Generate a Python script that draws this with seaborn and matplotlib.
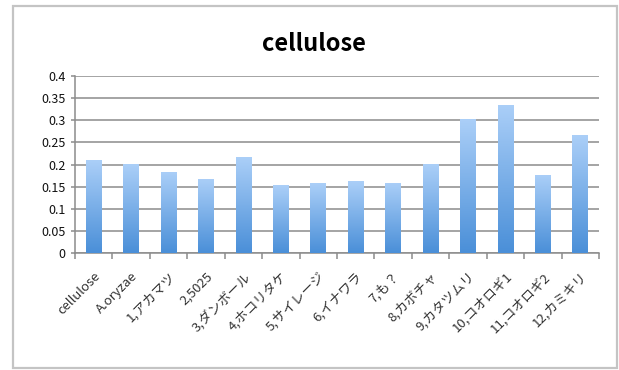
import numpy as np
import pandas as pd
import matplotlib
matplotlib.use("Agg")
import matplotlib.pyplot as plt
from matplotlib.patches import Rectangle
from matplotlib.colors import LinearSegmentedColormap
import seaborn as sns

samples = ["cellulose", "A.oryzae", "1,アカマツ", "2,5025", "3,ダンボール", "4,ホコリタケ",
           "5,サイレージ", "6,イナワラ", "7,も？", "8,カボチャ", "9,カタツムリ",
           "10,コオロギ1", "11,コオロギ2", "12,カミキリ"]
values = [0.210, 0.201, 0.184, 0.168, 0.216, 0.153, 0.158, 0.162, 0.159, 0.201,
          0.302, 0.335, 0.177, 0.266]
yticks = [0, 0.05, 0.1, 0.15, 0.2, 0.25, 0.3, 0.35, 0.4]
ytick_labels = ["0", "0.05", "0.1", "0.15", "0.2", "0.25", "0.3", "0.35", "0.4"]

sns.set_theme(style="white")
plt.rcParams["font.family"] = ["Noto Sans CJK JP", "DejaVu Sans"]

W, H = 619, 370
fig = plt.figure(figsize=(W / 100, H / 100), dpi=100)
fig.patch.set_facecolor("white")

# outer chart frame
fig.patches.append(Rectangle((13 / W, 1 - 368 / H), (617 - 13) / W, (368 - 6) / H,
                             transform=fig.transFigure, fill=False,
                             edgecolor="#c4c4c4", linewidth=1.6, zorder=0))

ax = fig.add_axes([75 / W, 1 - 253 / H, (599 - 75) / W, (253 - 76) / H])
df = pd.DataFrame({"sample": samples, "value": values})
sns.barplot(data=df, x="sample", y="value", ax=ax, width=0.42,
            color="#6aa6e6", saturation=1, zorder=3)

# vertical gradient fill for each bar
cmap = LinearSegmentedColormap.from_list("bar", ["#4a8fd8", "#abcff8"])
grad = np.linspace(0, 1, 256).reshape(-1, 1)
for p in ax.patches:
    x0, y0 = p.get_x(), p.get_y()
    w, h = p.get_width(), p.get_height()
    im = ax.imshow(grad, cmap=cmap, origin="lower", aspect="auto",
                   extent=(x0, x0 + w, y0, y0 + h), zorder=3)
    im.set_clip_path(p)
    p.set_facecolor("none")
    p.set_edgecolor("none")

ax.set_xlim(-0.5, len(samples) - 0.5)
ax.set_ylim(0, 0.4)
ax.set_yticks(yticks)
ax.set_yticklabels(ytick_labels, fontsize=9, color="#111111")
ax.yaxis.grid(True, color="#8c8c8c", linewidth=1.1, zorder=0)
ax.set_axisbelow(True)
ax.set_xlabel("")
ax.set_ylabel("")

for side in ["top", "right"]:
    ax.spines[side].set_visible(False)
for side in ["left", "bottom"]:
    ax.spines[side].set_color("#8c8c8c")
    ax.spines[side].set_linewidth(1.1)

ax.set_xticks(range(len(samples)))
ax.set_xticklabels(samples, rotation=45, ha="right", rotation_mode="anchor",
                   fontsize=9.5, color="#333333")
ax.set_xticks(np.arange(-0.5, len(samples), 1.0), minor=True)
ax.tick_params(axis="x", which="major", length=0, pad=12)
ax.tick_params(axis="x", which="minor", length=4, color="#8c8c8c", width=1.1,
               direction="out", bottom=True)
ax.tick_params(axis="y", length=3, color="#8c8c8c", width=1.1, direction="out",
               left=True, pad=4)

fig.text(314 / W, 1 - 51 / H, "cellulose", ha="center", va="baseline",
         fontsize=17, fontweight="bold", color="black")

fig.savefig("out.png", dpi=100)
